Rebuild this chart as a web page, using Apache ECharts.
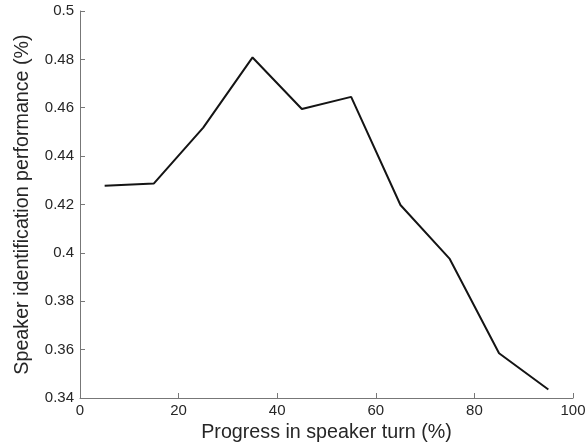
<!DOCTYPE html>
<html><head><meta charset="utf-8">
<script src="https://cdn.jsdelivr.net/npm/echarts@6/dist/echarts.min.js"></script>
<style>html,body{margin:0;padding:0;background:#fff}#c{width:585px;height:443px}</style>
</head><body><div id="c"></div>
<script>
const progress = [5, 15, 25, 35, 45, 55, 65, 75, 85, 95];
const performance = [0.4278, 0.4287, 0.4518, 0.4808, 0.4595, 0.4645, 0.4198, 0.3975, 0.3585, 0.3435];
const xTitle = 'Progress in speaker turn (%)';
const yTitle = 'Speaker identification performance (%)';

const chart = echarts.init(document.getElementById('c'));
const font = 'Liberation Sans, Arial, Helvetica, sans-serif';
chart.setOption({
  animation: false,
  grid: {left: 80, top: 11, right: 12, bottom: 45, containLabel: false, outerBoundsMode: 'none'},
  xAxis: {
    type: 'value', min: 0, max: 100, interval: 20,
    name: xTitle, nameLocation: 'middle', nameGap: 19,
    nameTextStyle: {fontFamily: font, fontSize: 19.7, color: '#262626'},
    axisLine: {lineStyle: {color: '#777', width: 1}},
    axisTick: {inside: true, length: 5, lineStyle: {color: '#777'}},
    axisLabel: {fontFamily: font, fontSize: 15, color: '#262626', margin: 5,
      formatter: v => String(v)},
    splitLine: {show: false}
  },
  yAxis: {
    type: 'value', min: 0.34, max: 0.5, interval: 0.02,
    name: yTitle, nameLocation: 'middle', nameGap: 47, nameRotate: 90,
    nameTextStyle: {fontFamily: font, fontSize: 19.7, color: '#262626'},
    axisLine: {lineStyle: {color: '#777', width: 1}},
    axisTick: {inside: true, length: 5, lineStyle: {color: '#777'}},
    axisLabel: {fontFamily: font, fontSize: 15, color: '#262626', margin: 6,
      formatter: v => String(parseFloat(v.toFixed(2)))},
    splitLine: {show: false}
  },
  series: [{
    type: 'line',
    data: progress.map((x, i) => [x, performance[i]]),
    showSymbol: false,
    lineStyle: {color: '#141414', width: 2},
    itemStyle: {color: '#141414'}
  }]
});
</script></body></html>
